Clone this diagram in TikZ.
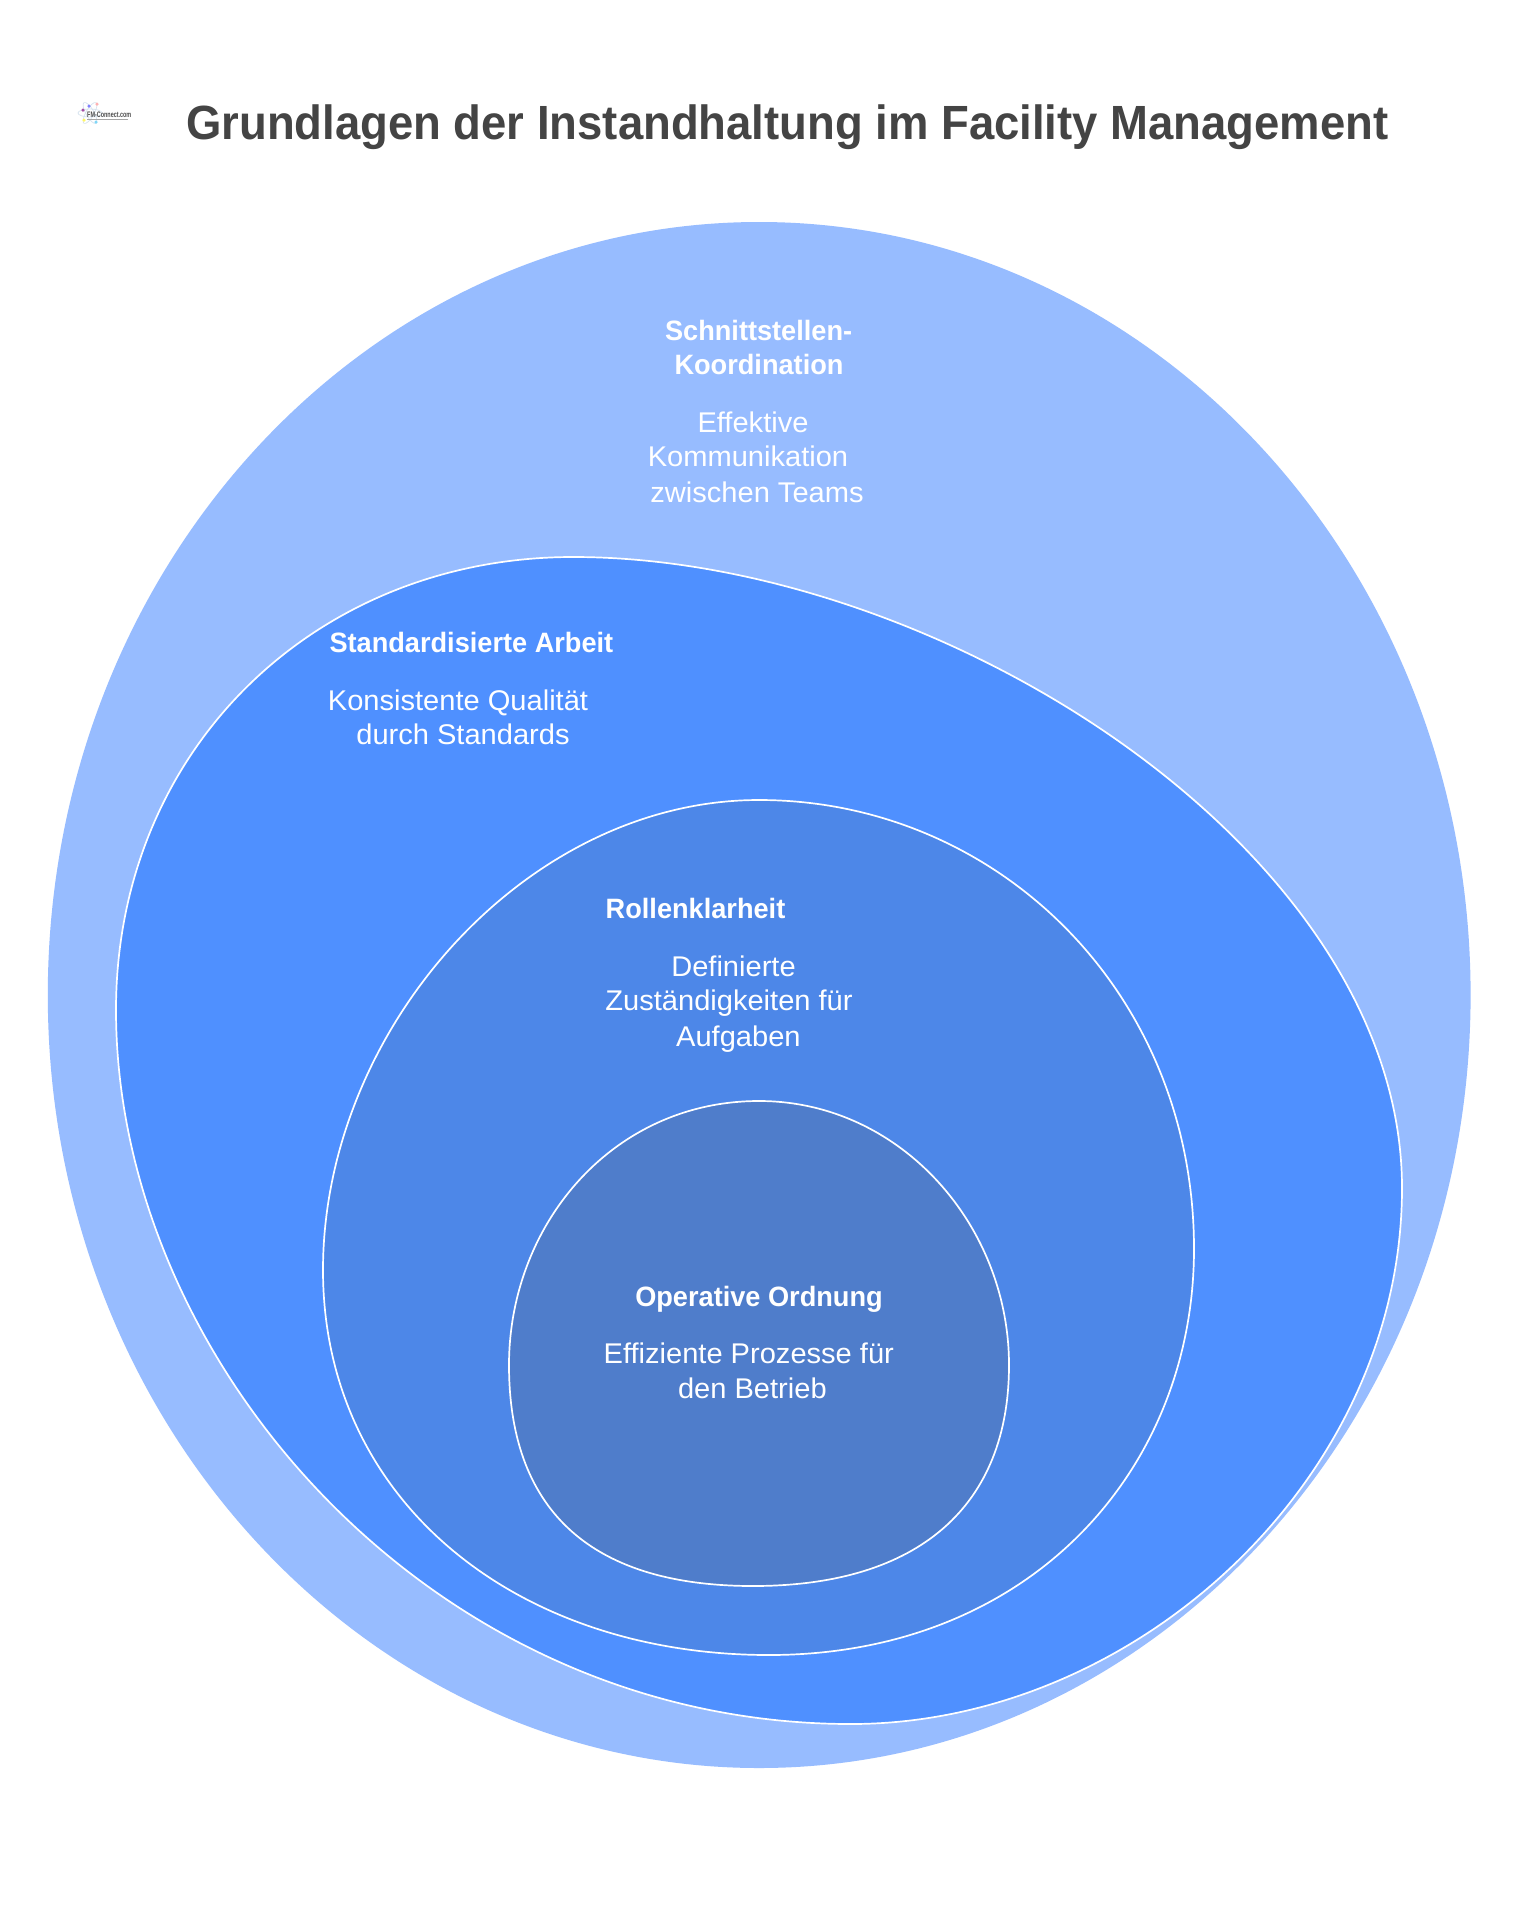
\documentclass[tikz,border=0pt]{standalone}
\usepackage{fontspec}
\setmainfont{Liberation Sans}
\newfontfamily\titlefont[FakeStretch=0.947]{Liberation Sans}
\newfontfamily\headfont[FakeStretch=0.97]{Liberation Sans}
\newfontfamily\bodyfont[FakeStretch=1.02]{Liberation Sans}
\newfontfamily\logofont[FakeStretch=0.68]{Liberation Sans}
\usepackage{tikz}
\definecolor{ringA}{HTML}{97BCFF}
\definecolor{ringB}{HTML}{4F90FF}
\definecolor{ringC}{HTML}{4D87E8}
\definecolor{ringD}{HTML}{4F7DCB}
\definecolor{titlegray}{HTML}{444444}
\definecolor{atomline}{HTML}{D5E2EE}
\tikzset{
  ring/.style={draw=white, line width=1.7pt},
  head/.style={text=white, anchor=base, font=\headfont\fontsize{28}{28}\selectfont\bfseries, inner sep=0},
  body/.style={text=white, anchor=base, font=\bodyfont\fontsize{28.5}{28.5}\selectfont, inner sep=0},
  atom/.style={draw=atomline, line width=0.7pt},
  dot/.style={circle, minimum size=3.5pt, inner sep=0},
}
\begin{document}
\begin{tikzpicture}[x=1pt, y=-1pt]
        \useasboundingbox (0,0) rectangle (1536,1920);
        \fill[white] (0,0) rectangle (1536,1920);
        % rings
        \fill[ringA] (759.2,995) ellipse [x radius=711.4, y radius=773];
        \draw[ring, fill=ringB] (116,1010) .. controls (116,750) and (315,557) .. (573,557)
            .. controls (940,557) and (1402,850) .. (1402,1188)
            .. controls (1402,1480) and (1135,1724) .. (851,1724)
            .. controls (430,1724) and (116,1360) .. (116,1010) -- cycle;
        \draw[ring, fill=ringC] (323,1270) .. controls (323,1030) and (525,800) .. (759,800)
            .. controls (995,800) and (1194,990) .. (1194,1249)
            .. controls (1194,1470) and (1030,1655) .. (769,1655)
            .. controls (515,1655) and (323,1500) .. (323,1270) -- cycle;
        \draw[ring, fill=ringD] (509,1365) .. controls (509,1225) and (612,1101) .. (759,1101)
            .. controls (900,1101) and (1009,1225) .. (1009,1365)
            .. controls (1009,1505) and (920,1586) .. (753,1586)
            .. controls (585,1586) and (509,1505) .. (509,1365) -- cycle;
        % title
        \node[anchor=base west, inner sep=0, text=titlegray, font=\titlefont\fontsize{48}{48}\selectfont\bfseries] (title) at (186,139) {Grundlagen der Instandhaltung im Facility Management};
        % logo
        \draw[atom] (90,113) ellipse [x radius=12, y radius=4, rotate=60];
        \draw[atom] (90,113) ellipse [x radius=12, y radius=4, rotate=120];
        \draw[atom] (90,113) ellipse [x radius=12, y radius=4];
        \node[dot, fill=violet!70] (d1) at (83,110) {};
        \node[dot, fill=blue!50] (d2) at (89,106) {};
        \node[dot, fill=red!30] (d3) at (97,104) {};
        \node[dot, fill=yellow!60] (d4) at (84,120) {};
        \node[dot, fill=cyan!50] (d5) at (96,122) {};
        \node[anchor=base west, inner sep=0, text=black!70, font=\logofont\fontsize{8}{8}\selectfont\bfseries] (logo) at (87,117) {FM-Connect.com};
        \draw[black!35, line width=0.8pt] (87,119.5) -- (128,119.5);
        % outer ring
        \node[head] (sk1) at (758.6,340.4) {Schnittstellen-};
        \node[head] (sk2) at (759,374.7) {Koordination};
        \node[body] (sk3) at (753,432) {Effektive};
        \node[body] (sk4) at (748,466.5) {Kommunikation};
        \node[body] (sk5) at (757,502) {zwischen Teams};
        % second ring
        \node[head] (sa1) at (471.4,652.7) {Standardisierte Arbeit};
        \node[body] (sa2) at (458,710) {Konsistente Qualität};
        \node[body] (sa3) at (463,744.5) {durch Standards};
        % third ring
        \node[head] (rk1) at (695.5,918) {Rollenklarheit};
        \node[body] (rk2) at (733.5,976) {Definierte};
        \node[body] (rk3) at (729,1010) {Zuständigkeiten für};
        \node[body] (rk4) at (738.4,1046) {Aufgaben};
        % inner ring
        \node[head] (oo1) at (759,1306.6) {Operative Ordnung};
        \node[body] (oo2) at (748.8,1363) {Effiziente Prozesse für};
        \node[body] (oo3) at (752.4,1398) {den Betrieb};
    \end{tikzpicture}
\end{document}
